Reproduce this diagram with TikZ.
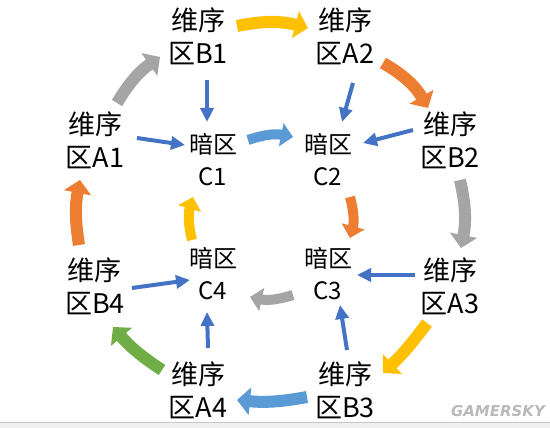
\documentclass[tikz,border=0pt]{standalone}
\usepackage{fontspec}
\newfontfamily\cjk{Noto Sans CJK SC}
\newfontfamily\wmfont{DejaVu Sans}
\usetikzlibrary{arrows.meta,calc}
\definecolor{cyel}{HTML}{FFC000}
\definecolor{cora}{HTML}{ED7D31}
\definecolor{cgry}{HTML}{A5A5A5}
\definecolor{clbl}{HTML}{5B9BD5}
\definecolor{cgrn}{HTML}{70AD47}
\definecolor{cdbl}{HTML}{4472C4}
\begin{document}
\begin{tikzpicture}[x=1pt,y=1pt,
  outer/.style={font=\cjk\fontsize{27}{33}\selectfont, align=center, inner sep=0pt},
  innr/.style={font=\cjk\fontsize{24}{32}\selectfont, align=center, inner sep=0pt},
  big/.style={line width=12pt, -{Triangle[width=27pt,length=13pt]}},
  midarr/.style={line width=10pt, -{Triangle[width=23pt,length=12pt]}},
  thinarr/.style={line width=4pt, draw=cdbl, -{Triangle[width=13pt,length=14pt]}}
]
\useasboundingbox (0,0) rectangle (550,428);
\fill[white] (0,0) rectangle (550,428);
\fill[gray!12] (0,0) rectangle (550,5);
\draw[gray!45, line width=1pt] (0,5.5) -- (550,5.5);

% outer nodes
\node[outer] (B1) at (198,392) {维序\\区B1};
\node[outer] (A2) at (345,392) {维序\\区A2};
\node[outer] (A1) at (95,288) {维序\\区A1};
\node[outer] (B2) at (450,288) {维序\\区B2};
\node[outer] (B4) at (95,142) {维序\\区B4};
\node[outer] (A3) at (450,142) {维序\\区A3};
\node[outer] (A4) at (198,38) {维序\\区A4};
\node[outer] (B3) at (345,38) {维序\\区B3};
% inner nodes
\node[innr] (C1) at (213,268) {暗区\\C1};
\node[innr] (C2) at (328,268) {暗区\\C2};
\node[innr] (C4) at (213,154) {暗区\\C4};
\node[innr] (C3) at (328,154) {暗区\\C3};

% outer cycle
\draw[big, cyel] ($(B1)+(39,10)$) to[bend left=13] ($(A2)+(-37,8)$);
\draw[big, cora] ($(A2)+(38,-27)$) to[bend left=15] ($(B2)+(-22,32)$);
\draw[big, cgry] ($(B2)+(10,-40)$) to[bend left=12] ($(A3)+(11,38)$);
\draw[big, cyel] ($(A3)+(-23,-37)$) to[bend left=5] ($(B3)+(38,17)$);
\draw[big, clbl] ($(B3)+(-38,-7)$) to[bend left=8] ($(A4)+(39,-10)$);
\draw[big, cgrn] ($(A4)+(-36,20)$) to[bend left=8] ($(B4)+(18,-41)$);
\draw[big, cora] ($(B4)+(-16,41)$) to[bend left=10] ($(A1)+(-15,-40)$);
\draw[big, cgry] ($(A1)+(22,37)$) to[bend left=12] ($(B1)+(-38,-21)$);

% inner cycle
\draw[midarr, clbl] ($(C1)+(35,20)$) to[bend left=15] ($(C2)+(-35,23)$);
\draw[midarr, cora] ($(C2)+(22,-37)$) to[bend left=15] ($(C3)+(22,36)$);
\draw[midarr, cgry] ($(C3)+(-35,-21)$) to[bend left=15] ($(C4)+(37,-23)$);
\draw[midarr, cyel] ($(C4)+(-21,34)$) to[bend left=15] ($(C1)+(-20,-37)$);

% thin blue arrows
\draw[thinarr] ($(B1)+(9,-44)$) -- ($(C1)+(-6,38)$);
\draw[thinarr] ($(A1)+(42,2)$) -- ($(C1)+(-28,15)$);
\draw[thinarr] ($(A2)+(8,-47)$) -- ($(C2)+(14,38)$);
\draw[thinarr] ($(B2)+(-37,10)$) -- ($(C2)+(35,17)$);
\draw[thinarr] ($(A3)+(-35,11)$) -- ($(C3)+(29,-1)$);
\draw[thinarr] ($(B3)+(2,40)$) -- ($(C3)+(12,-31)$);
\draw[thinarr] ($(B4)+(37,-2)$) -- ($(C4)+(-23,-6)$);
\draw[thinarr] ($(A4)+(10,42)$) -- ($(C4)+(-6,-38)$);

% watermark
\node[font=\wmfont\bfseries\itshape\fontsize{15}{15}\selectfont, text=gray!55, inner sep=0pt] (wm) at (498,17) {GAMERSKY};
\end{tikzpicture}
\end{document}
